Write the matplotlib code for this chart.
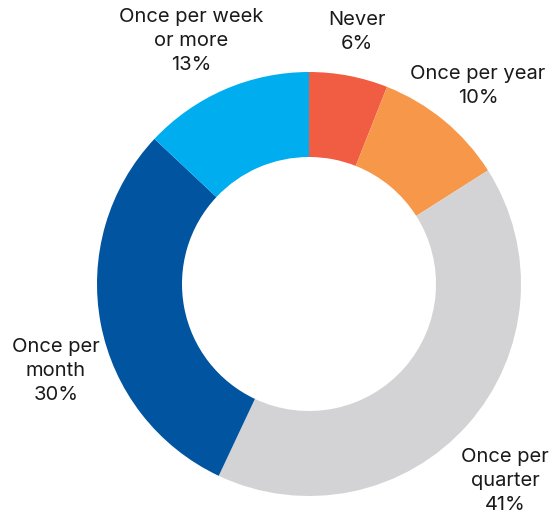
import matplotlib.pyplot as plt

categories = ['Never', 'Once per year', 'Once per\nquarter', 'Once per\nmonth', 'Once per week\nor more']
shares = [6, 10, 41, 30, 13]
colors = ['#F15D42', '#F7974A', '#D3D3D5', '#0054A0', '#00AEEF']

# label anchor points (pixels from top-left)
label_pos = [(357, 32), (478, 86), (505, 481), (56, 371), (191, 41)]

plt.rcParams['font.family'] = ['Inter', 'DejaVu Sans']

fig = plt.figure(figsize=(5.57, 5.15), dpi=100)
ax = fig.add_axes([0, 0, 1, 1])
ax.set_xlim(0, 557)
ax.set_ylim(0, 515)
ax.set_aspect('equal')
ax.axis('off')

ax.pie(shares, colors=colors, startangle=90, counterclock=False,
       center=(309, 515 - 284), radius=212,
       wedgeprops=dict(width=85, linewidth=0))

for name, val, (x, y) in zip(categories, shares, label_pos):
    ax.text(x, 515 - y, f'{name}\n{val}%', ha='center', va='center',
            fontsize=14.5, color='#1a1a1a', linespacing=1.4)

ax.set_xlim(0, 557)
ax.set_ylim(0, 515)
fig.savefig('out.png', dpi=100)
